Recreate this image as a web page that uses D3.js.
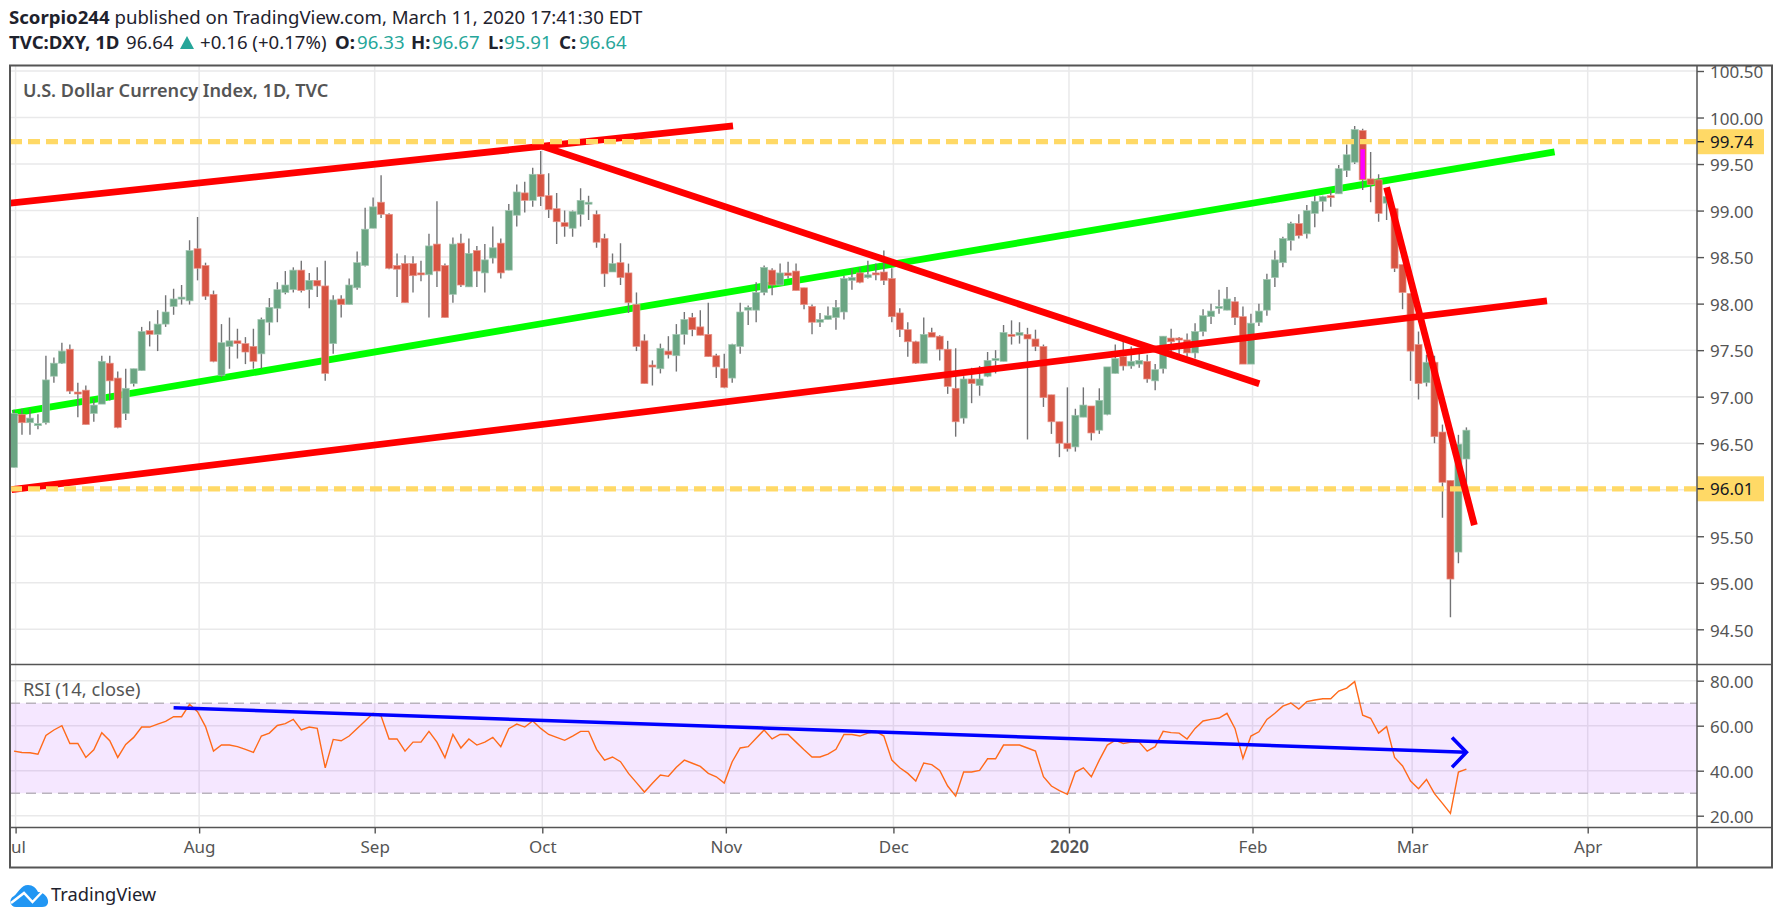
<!DOCTYPE html>
<html>
<head>
<meta charset="utf-8">
<script src="https://cdn.jsdelivr.net/npm/d3@7/dist/d3.min.js"></script>
<style>
  html, body { margin: 0; padding: 0; background: #fff; }
  svg { display: block; }
  text { font-family: "Noto Sans", "Open Sans", sans-serif; }
  .axis text { font-size: 17px; fill: #555; font-family: "Noto Sans", sans-serif; }
  .axis line { stroke: #555; stroke-width: 1.4; }
  .axis path { display: none; }
</style>
</head>
<body>
<script>
// daily candles, index 0 = Jul 1 2019
var opens = [96.24,96.81,96.72,96.69,96.72,97.22,97.36,97.51,97.05,97.07,96.82,96.92,97.36,97.2,96.82,97.14,97.28,97.71,97.67,97.78,97.97,98.05,98.03,98.59,98.41,98.1,97.23,97.54,97.6,97.57,97.54,97.46,97.8,97.95,98.12,98.15,98.36,98.15,98.25,98.19,97.57,98.05,97.99,98.17,98.41,98.81,99.09,98.96,98.41,98.43,98.43,98.33,98.31,98.64,98.41,98.1,98.65,98.18,98.57,98.33,98.49,98.65,98.36,98.95,99.19,99.11,99.39,99.16,99.02,98.87,98.81,98.96,99.07,98.96,98.7,98.34,98.44,98.33,97.99,97.6,97.34,97.3,97.49,97.44,97.67,97.85,97.75,97.67,97.44,97.3,97.2,97.54,97.93,97.93,98.12,98.36,98.2,98.33,98.35,98.17,97.97,97.8,97.83,97.85,97.91,98.25,98.33,98.28,98.33,98.34,98.27,97.9,97.72,97.59,97.36,97.69,97.65,97.51,97.09,96.77,97.19,97.12,97.22,97.39,97.38,97.67,97.66,97.67,97.62,97.54,97.02,96.73,96.5,96.46,96.78,96.9,96.64,96.81,97.25,97.43,97.33,97.35,97.38,97.17,97.3,97.63,97.63,97.61,97.47,97.7,97.86,97.95,97.93,98.02,97.86,97.35,97.8,97.93,98.28,98.44,98.68,98.86,98.75,98.97,99.1,99.16,99.18,99.43,99.52,99.86,99.34,99.33,99.08,99.02,98.42,98.11,97.56,97.15,97.37,96.62,96.1,95.33,96.33];
var highs = [96.86,96.87,96.87,96.81,97.44,97.42,97.58,97.56,97.15,97.12,96.98,97.44,97.44,97.27,97.3,97.3,97.75,97.81,97.93,98.09,98.16,98.2,98.68,98.93,98.44,98.14,97.78,97.85,97.73,97.64,97.73,97.85,98.06,98.23,98.35,98.39,98.46,98.33,98.39,98.46,98.09,98.09,98.27,98.56,99.03,99.14,99.38,98.97,98.54,98.52,98.51,98.46,98.75,99.1,98.43,98.71,98.75,98.7,98.62,98.64,98.83,98.7,99.07,99.28,99.31,99.46,99.64,99.4,99.19,99,99,99.24,99.16,99,98.75,98.54,98.65,98.43,98.12,97.67,97.39,97.57,97.65,97.78,97.91,97.9,97.93,98.01,97.46,97.46,97.57,98.01,97.98,98.23,98.41,98.38,98.43,98.45,98.43,98.17,97.99,97.9,97.97,98.04,98.3,98.38,98.39,98.46,98.43,98.57,98.38,97.95,97.8,97.6,97.85,97.74,97.66,97.6,97.52,97.22,97.31,97.33,97.48,97.5,97.77,97.82,97.8,97.74,97.72,97.56,97.02,96.73,97.1,96.87,97.1,96.9,97.09,97.32,97.56,97.59,97.54,97.52,97.45,97.35,97.65,97.73,97.64,97.68,97.79,97.94,98,98.15,98.18,98.07,97.97,97.89,98,98.32,98.57,98.72,98.88,98.96,99.06,99.16,99.16,99.22,99.49,99.71,99.91,99.88,99.63,99.39,99.2,99.02,98.42,98.11,97.7,97.45,97.44,96.7,96.1,96.59,96.67];
var lows = [96.24,96.59,96.59,96.65,96.7,97.15,97.35,97.03,96.78,96.7,96.73,96.92,96.96,96.66,96.75,97.11,97.28,97.54,97.49,97.75,97.88,97.99,97.99,98.25,98.04,97.37,97.21,97.3,97.41,97.35,97.3,97.3,97.66,97.8,98.1,98.12,98.12,97.95,98.07,97.17,97.46,97.85,97.99,98.15,98.4,98.81,98.92,98.37,98.07,98.01,98.12,98.24,97.85,98.18,97.85,98.01,98.18,98.18,98.18,98.12,98.43,98.27,98.36,98.83,98.98,99.04,99.05,98.92,98.64,98.72,98.72,98.83,98.9,98.6,98.18,98.34,98.2,97.9,97.49,97.14,97.12,97.25,97.41,97.27,97.56,97.65,97.66,97.43,97.2,97.09,97.15,97.46,97.77,97.8,98.09,98.09,98.2,98.27,98.14,97.94,97.67,97.75,97.83,97.72,97.83,98.15,98.22,98.27,98.25,98.2,97.8,97.64,97.43,97.35,97.36,97.64,97.39,97.03,96.57,96.71,96.93,97.01,97.21,97.25,97.38,97.56,97.57,96.54,97.49,96.89,96.6,96.35,96.41,96.41,96.78,96.53,96.6,96.8,97.25,97.28,97.3,97.31,97.15,97.07,97.25,97.46,97.44,97.43,97.41,97.65,97.78,97.89,97.93,97.77,97.35,97.35,97.76,97.87,98.18,98.39,98.57,98.7,98.7,98.82,98.99,99.04,99.18,99.36,99.5,99.22,99.09,98.88,98.9,98.34,97.94,97.17,96.97,97.11,96.5,95.7,94.63,95.21,95.91];
var closes = [96.82,96.72,96.77,96.71,97.18,97.36,97.49,97.06,97.04,96.7,96.91,97.38,97.17,96.67,97.09,97.3,97.7,97.67,97.78,97.91,98.05,98.07,98.57,98.38,98.08,97.38,97.58,97.6,97.57,97.48,97.38,97.83,97.96,98.15,98.2,98.36,98.14,98.25,98.19,97.25,98.04,97.99,98.2,98.44,98.8,99.04,98.96,98.38,98.37,98.01,98.3,98.32,98.62,98.35,97.85,98.64,98.2,98.54,98.35,98.47,98.6,98.33,99,99.2,99.11,99.39,99.15,99.01,98.88,98.83,98.99,99.11,99.09,98.66,98.32,98.43,98.28,98.01,97.54,97.14,97.32,97.52,97.45,97.67,97.83,97.72,97.66,97.43,97.32,97.1,97.56,97.91,97.96,98.12,98.39,98.2,98.33,98.3,98.14,97.99,97.8,97.83,97.87,97.96,98.27,98.28,98.23,98.31,98.32,98.25,97.86,97.72,97.59,97.36,97.67,97.64,97.51,97.11,96.73,97.19,97.14,97.19,97.39,97.41,97.69,97.66,97.69,97.62,97.54,96.99,96.73,96.5,96.44,96.8,96.91,96.61,96.96,97.32,97.41,97.33,97.38,97.39,97.19,97.29,97.65,97.59,97.61,97.47,97.7,97.87,97.92,97.97,98.05,97.85,97.35,97.79,97.92,98.26,98.47,98.7,98.86,98.73,99,99.1,99.15,99.14,99.45,99.6,99.87,99.33,99.28,98.97,99.15,98.38,98.12,97.49,97.14,97.37,96.57,96.08,95.04,96.49,96.64];

var rsi = [48.7,48.1,48,47.3,55.7,58.1,60,52.1,52.1,45.9,49.3,56.9,53.3,45.9,51.7,54.8,59.4,59.4,60.7,61.9,64,64,69.5,66.2,59.6,48.7,51.4,51.4,50.7,49.5,48.1,55.4,56.7,60.1,60.9,62.8,58.1,59.4,58.8,41.3,53.9,53.3,55.4,58.8,62.1,65.5,64.3,54.1,54.1,48.7,52.7,52.7,57.5,52.7,45.8,56.1,50.1,54.1,51.4,52.7,54.8,50.7,58.7,60.7,59.4,62.1,58.8,56.1,54.8,53.5,55.4,57.5,57.5,49.5,44.7,46.1,44,38.8,34.7,30.5,34.4,38.1,37.5,41.5,44.7,43.3,41.9,38.8,37.3,34.5,44,50.1,50.7,54.4,58.1,54.1,56.1,56.1,52.7,49.3,46.1,46.1,47.4,49.5,56.1,56.1,55.4,56.7,57.5,55.4,44.7,41.3,38.8,35.4,43.4,42.7,40.1,33.2,28.7,39.4,39.4,40.1,45.3,45.3,51.4,51.4,51.4,50.1,48.7,37.3,33.2,31.1,29.5,39.4,41.3,37.3,44.7,51.4,53.5,52.1,52.7,52.7,48.7,50.7,57.5,56.9,56.7,54.1,58.8,62.1,62.8,63.4,65.5,58.8,45.5,55.4,57.3,62.8,65.5,68.7,70.1,67.4,70.7,71.4,72,72,75.4,76.7,79.6,64.7,63.3,56.7,59.6,45.9,42.1,35.4,32,36.1,29.8,25.5,21,39.4,40.7];

var priceTicks = [94.5,95,95.5,96,96.5,97,97.5,98,98.5,99,99.5,100,100.5];
var rsiTicks = [20,40,60,80];
var rsiBand = [30,70];
var monthTicks = [0.2,23.2,45.2,66.2,89.2,110.2,132.2,155.2,175.2,197.2];
var monthLabels = ['Jul','Aug','Sep','Oct','Nov','Dec','2020','Feb','Mar','Apr'];
var levels = [99.74,96.01];

// drawn trend lines as [bar index, price]
var greenLine = [[-0.2,96.82],[193.05,99.63]];
var redLines = [
  [[-0.5,99.08],[90.1,99.91]],
  [[66.25,99.69],[156.05,97.14]],
  [[-0.3,96.0],[192.1,98.03]]
];
var steepLine = [[172,99.25],[183,95.62]];
var pinkLine = [[169,99.66],[169,99.34]];
// drawn on the RSI pane as [bar index, rsi]
var blueLine = [[20,68],[182,48.2]];
var blueHead = [[180.2,54.8],[182,48.2],[180.2,41.5]];

var width = 1782, height = 923;
var frameL = 10, frameR = 1772, frameT = 66, frameB = 868, axisX = 1697, paneY = 664.5, timeY = 827.5;

var svg = d3.select('body').append('svg')
    .attr('width', width)
    .attr('height', height);

var x = d3.scaleLinear().domain([0, 182]).range([14, 1466.4]);
var y = d3.scaleLinear().domain([100.5, 94.5]).range([71, 629.3]);
var yr = d3.scaleLinear().domain([80, 20]).range([680.7, 815.7]);

var defs = svg.append('defs');
defs.append('clipPath').attr('id', 'mainClip').append('rect')
    .attr('x', frameL).attr('y', frameT).attr('width', axisX - frameL).attr('height', paneY - frameT);
defs.append('clipPath').attr('id', 'rsiClip').append('rect')
    .attr('x', frameL).attr('y', paneY).attr('width', axisX - frameL).attr('height', timeY - paneY);
defs.append('clipPath').attr('id', 'timeClip').append('rect')
    .attr('x', frameL).attr('y', timeY).attr('width', axisX - frameL).attr('height', frameB - timeY);

// header
var head1 = svg.append('text').attr('x', 9).attr('y', 24).attr('font-size', 18.6).attr('fill', '#1e222d');
head1.append('tspan').attr('font-weight', 700).text('Scorpio244');
head1.append('tspan').text(' published on TradingView.com, March 11, 2020 17:41:30 EDT');

var teal = '#26a69a';
var head2 = svg.append('g').attr('font-size', 18.6).attr('fill', '#1e222d');
var headItems = [
  ['TVC:DXY, 1D', 9, 700, '#1e222d'], ['96.64', 126, 400, '#1e222d'], ['+0.16 (+0.17%)', 200, 400, '#1e222d'],
  ['O:', 335, 700, '#1e222d'], ['96.33', 357, 400, teal],
  ['H:', 411, 700, '#1e222d'], ['96.67', 432, 400, teal],
  ['L:', 488, 700, '#1e222d'], ['95.91', 504, 400, teal],
  ['C:', 559, 700, '#1e222d'], ['96.64', 579, 400, teal]
];
head2.selectAll('text').data(headItems).enter().append('text')
    .attr('x', function(d){ return d[1]; }).attr('y', 49)
    .attr('font-weight', function(d){ return d[2]; })
    .attr('fill', function(d){ return d[3]; })
    .text(function(d){ return d[0]; });
head2.append('path').attr('d', 'M180 49 L187 36 L194 49 Z').attr('fill', teal);

// grids
var grid = svg.append('g').attr('stroke', '#e9e9ea').attr('stroke-width', 1.5);
grid.selectAll('.gp').data(priceTicks).enter().append('line')
    .attr('x1', frameL).attr('x2', axisX)
    .attr('y1', function(d){ return y(d); }).attr('y2', function(d){ return y(d); });
grid.selectAll('.gr').data(rsiTicks).enter().append('line')
    .attr('x1', frameL).attr('x2', axisX)
    .attr('y1', function(d){ return yr(d); }).attr('y2', function(d){ return yr(d); });
grid.selectAll('.gm').data(monthTicks).enter().append('line')
    .attr('x1', function(d){ return x(d); }).attr('x2', function(d){ return x(d); })
    .attr('y1', frameT).attr('y2', timeY);

// rsi pane
var rsiPane = svg.append('g').attr('clip-path', 'url(#rsiClip)');
rsiPane.append('rect')
    .attr('x', frameL).attr('width', axisX - frameL)
    .attr('y', yr(rsiBand[1])).attr('height', yr(rsiBand[0]) - yr(rsiBand[1]))
    .attr('fill', '#9915ff').attr('opacity', 0.1);
rsiPane.selectAll('.band').data(rsiBand).enter().append('line')
    .attr('x1', frameL).attr('x2', axisX)
    .attr('y1', function(d){ return yr(d); }).attr('y2', function(d){ return yr(d); })
    .attr('stroke', '#b9b3bd').attr('stroke-width', 1.5).attr('stroke-dasharray', '10 6');
rsiPane.append('path')
    .attr('d', d3.line().x(function(d, i){ return x(i); }).y(function(d){ return yr(d); })(rsi))
    .attr('fill', 'none').attr('stroke', '#ff6a1a').attr('stroke-width', 1.4);

var rsiLine = d3.line().x(function(d){ return x(d[0]); }).y(function(d){ return yr(d[1]); });
rsiPane.append('path').attr('d', rsiLine(blueLine))
    .attr('fill', 'none').attr('stroke', '#0000ff').attr('stroke-width', 3.6);
rsiPane.append('path').attr('d', rsiLine(blueHead))
    .attr('fill', 'none').attr('stroke', '#0000ff').attr('stroke-width', 3.6);

// price pane
var pane = svg.append('g').attr('clip-path', 'url(#mainClip)');
var priceLine = d3.line().x(function(d){ return x(d[0]); }).y(function(d){ return y(d[1]); });

pane.append('path').attr('d', priceLine(greenLine))
    .attr('fill', 'none').attr('stroke', '#00ff00').attr('stroke-width', 6.8);

var bars = pane.selectAll('.bar').data(closes).enter().append('g');
bars.append('line')
    .attr('x1', function(d, i){ return x(i); }).attr('x2', function(d, i){ return x(i); })
    .attr('y1', function(d, i){ return y(highs[i]); })
    .attr('y2', function(d, i){ return y(lows[i]); })
    .attr('stroke', '#737375').attr('stroke-width', 1.4);
bars.append('rect')
    .attr('x', function(d, i){ return x(i) - 3.5; })
    .attr('width', 7)
    .attr('y', function(d, i){ return y(Math.max(opens[i], d)); })
    .attr('height', function(d, i){ return Math.max(2, Math.abs(y(opens[i]) - y(d))); })
    .attr('fill', function(d, i){ return d >= opens[i] ? '#6ba583' : '#d75442'; })
    .attr('stroke', function(d, i){ return d >= opens[i] ? '#a3c7b2' : '#e8948a'; })
    .attr('stroke-width', 0.7);

pane.append('path').attr('d', priceLine(pinkLine))
    .attr('fill', 'none').attr('stroke', '#ff00ff').attr('stroke-width', 4.5);

pane.selectAll('.red').data(redLines).enter().append('path')
    .attr('d', function(d){ return priceLine(d); })
    .attr('fill', 'none').attr('stroke', '#ff0000').attr('stroke-width', 6.8);

pane.selectAll('.level').data(levels).enter().append('line')
    .attr('x1', frameL).attr('x2', axisX)
    .attr('y1', function(d){ return y(d); }).attr('y2', function(d){ return y(d); })
    .attr('stroke', '#ffd966').attr('stroke-width', 5.2).attr('stroke-dasharray', '12 6');

pane.append('path').attr('d', priceLine(steepLine))
    .attr('fill', 'none').attr('stroke', '#ff0000').attr('stroke-width', 6.8);

// axes
svg.append('g').attr('class', 'axis')
    .attr('transform', 'translate(' + axisX + ',0)')
    .call(d3.axisRight(y).tickValues(priceTicks).tickSize(7).tickPadding(6).tickFormat(d3.format('.2f')))
  .selectAll('text').attr('dy', '0.4em');
svg.append('g').attr('class', 'axis')
    .attr('transform', 'translate(' + axisX + ',0)')
    .call(d3.axisRight(yr).tickValues(rsiTicks).tickSize(7).tickPadding(6).tickFormat(d3.format('.2f')))
  .selectAll('text').attr('dy', '0.4em');

var timeAxis = svg.append('g').attr('class', 'axis').attr('clip-path', 'url(#timeClip)')
  .append('g').attr('transform', 'translate(0,' + timeY + ')')
    .call(d3.axisBottom(x).tickValues(monthTicks).tickSize(6).tickPadding(7)
      .tickFormat(function(d, i){ return monthLabels[i]; }));
timeAxis.selectAll('text').filter(function(d, i){ return monthLabels[i] === '2020'; })
    .style('font-weight', 600);

// last-value labels for the two horizontal levels
var tags = svg.selectAll('.tag').data(levels).enter().append('g');
tags.append('rect')
    .attr('x', axisX).attr('width', 67)
    .attr('y', function(d){ return y(d) - 12.5; }).attr('height', 25)
    .attr('fill', '#ffd966');
tags.append('line')
    .attr('x1', axisX).attr('x2', axisX + 7)
    .attr('y1', function(d){ return y(d); }).attr('y2', function(d){ return y(d); })
    .attr('stroke', '#131722').attr('stroke-width', 1.4);
tags.append('text')
    .attr('x', axisX + 13)
    .attr('y', function(d){ return y(d); })
    .attr('dy', '0.36em')
    .attr('font-size', 17).attr('fill', '#131722')
    .text(function(d){ return d.toFixed(2); });

// frame and separators
svg.append('rect')
    .attr('x', frameL).attr('y', frameT - 0.5).attr('width', frameR - frameL).attr('height', frameB - frameT)
    .attr('fill', 'none').attr('stroke', '#555').attr('stroke-width', 2);
var seps = svg.append('g').attr('stroke', '#555').attr('stroke-width', 1.5);
seps.append('line').attr('x1', axisX).attr('x2', axisX).attr('y1', frameT).attr('y2', frameB);
seps.append('line').attr('x1', frameL).attr('x2', frameR).attr('y1', paneY).attr('y2', paneY);
seps.append('line').attr('x1', frameL).attr('x2', frameR).attr('y1', timeY).attr('y2', timeY);

// pane titles
svg.append('text').attr('x', 23).attr('y', 97)
    .attr('font-size', 18.1).attr('font-weight', 600).attr('fill', '#555')
    .text('U.S. Dollar Currency Index, 1D, TVC');
svg.append('text').attr('x', 23).attr('y', 696)
    .attr('font-size', 18.3).attr('fill', '#555')
    .text('RSI (14, close)');

// footer logo
var logo = svg.append('g').attr('transform', 'translate(9,884)');
logo.append('path')
    .attr('d', 'M7 23 C1 23 -1 15 5 12 C9 9 12 1 19 1 C24 1 27 4 29 8 C35 8 40 14 39 19 C38 22 36 23 33 23 Z')
    .attr('fill', '#2196f3');
logo.append('path')
    .attr('d', 'M2 19 L15 9 L23.5 18 L35 6')
    .attr('fill', 'none').attr('stroke', '#fff').attr('stroke-width', 2.5);
svg.append('text').attr('x', 51).attr('y', 901)
    .attr('font-size', 18.3).attr('fill', '#1e222d')
    .text('TradingView');
</script>
</body>
</html>
